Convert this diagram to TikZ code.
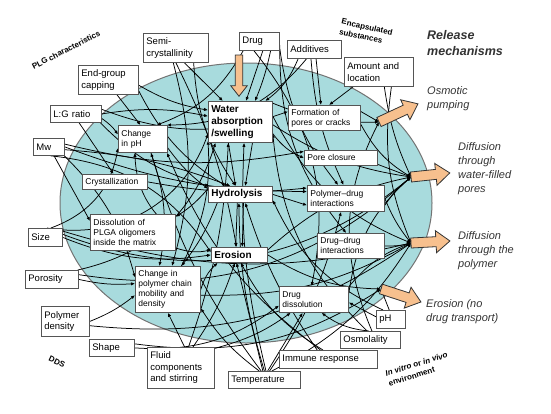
\documentclass[tikz,border=0pt]{standalone}
\usepackage{fontspec}
\setmainfont{Liberation Sans}
\usetikzlibrary{arrows.meta}
\pgfdeclarelayer{back}
\pgfdeclarelayer{links}
\pgfsetlayers{back,links,main}
\definecolor{lagoon}{RGB}{168,219,221}
\definecolor{peach}{RGB}{247,192,142}
\definecolor{boxline}{RGB}{85,85,85}
\tikzset{
  box/.style={draw=boxline,fill=white,line width=0.8pt,anchor=north west,align=left,inner xsep=3pt,inner ysep=1pt},
  fac/.style={box,font=\fontsize{9.5}{11.5}\selectfont},
  proc/.style={box,font=\fontsize{8.5}{10}\selectfont},
  keyproc/.style={box,font=\fontsize{10}{12}\selectfont\bfseries},
  link/.style={-{Latex[length=4pt,width=3.4pt]},line width=0.75pt},
  bigarr/.style={fill=peach,draw=black!80,line width=0.8pt},
  tag/.style={font=\fontsize{8}{10.5}\selectfont\bfseries,align=left,inner sep=0pt},
  mech/.style={font=\fontsize{11}{14}\selectfont\itshape,text=black!80,align=left,anchor=north west,inner sep=0pt}
}
\newcommand\relarrow[5][]{%
  \draw[bigarr,shift={(#2,#3)},rotate=#4,#1] (0,5) -- ({#5-14},5) -- ({#5-14},11) -- (#5,0)
    -- ({#5-14},-11) -- ({#5-14},-5) -- (0,-5) -- cycle;}

\begin{document}
\begin{tikzpicture}[x=1pt,y=-1pt]
\useasboundingbox (0,0) rectangle (551,413);
\begin{pgfonlayer}{back}
  \draw[fill=lagoon,draw=black!55,line width=1pt] (246,203) ellipse [x radius=186,y radius=140];
\end{pgfonlayer}

% factors outside the device
\node[fac,text width=59pt,minimum height=29pt] (semi) at (143,33) {Semi-\\crystallinity};
\node[fac,text width=34pt,minimum height=18pt] (drug) at (239,32) {Drug};
\node[fac,text width=48pt,minimum height=18pt] (addit) at (287,40) {Additives};
\node[fac,text width=63pt,minimum height=29pt] (amount) at (344,57) {Amount and\\location};
\node[fac,text width=54pt,minimum height=29pt] (endgrp) at (78,65) {End-group\\capping};
\node[fac,text width=45pt,minimum height=17pt] (lg) at (50,105) {L:G ratio};
\node[fac,text width=25pt,minimum height=17pt] (mw) at (33,138) {Mw};
\node[fac,text width=28pt,minimum height=18pt] (size) at (28,228) {Size};
\node[fac,text width=47pt,minimum height=18pt] (poros) at (25,270) {Porosity};
\node[fac,text width=42pt,minimum height=30pt] (pdens) at (41,306) {Polymer\\density};
\node[fac,text width=39pt,minimum height=17pt] (shape) at (89,339) {Shape};
\node[fac,text width=61pt,minimum height=41pt] (fluid) at (147,347) {Fluid\\components\\and stirring};
\node[fac,text width=66pt,minimum height=17pt] (temp) at (228,371) {Temperature};
\node[fac,text width=92pt,minimum height=18pt] (immune) at (279,350) {Immune response};
\node[fac,text width=54pt,minimum height=17pt] (osmo) at (340,331) {Osmolality};
\node[fac,text width=23pt,minimum height=18pt] (ph) at (376,310) {pH};

% processes inside the device
\node[proc,text width=43pt,minimum height=27pt] (chph) at (118,125) {Change\\in pH};
\node[proc,text width=59pt,minimum height=15pt] (cryst) at (82,174) {Crystallization};
\node[proc,text width=79pt,minimum height=36pt] (dissol) at (90,214) {Dissolution of\\PLGA oligomers\\inside the matrix};
\node[proc,text width=59pt,minimum height=46pt] (chain) at (135,266) {Change in\\polymer chain\\mobility and\\density};
\node[keyproc,text width=58pt,minimum height=41pt] (water) at (208,101) {Water\\absorption\\/swelling};
\node[keyproc,text width=58pt,minimum height=16pt] (hydro) at (208,186) {Hydrolysis};
\node[keyproc,text width=50pt,minimum height=15pt] (eros) at (211,247) {Erosion};
\node[proc,text width=66pt,minimum height=25pt] (form) at (288,105) {Formation of\\pores or cracks};
\node[proc,text width=67pt,minimum height=15pt] (pclose) at (304,150) {Pore closure};
\node[proc,text width=71pt,minimum height=26pt] (pdint) at (307,185) {Polymer--drug\\interactions};
\node[proc,text width=61pt,minimum height=25pt] (ddint) at (317,233) {Drug--drug\\interactions};
\node[proc,text width=63pt,minimum height=26pt] (ddiss) at (279,286) {Drug\\dissolution};

\coordinate (osmT) at (379,122);
\coordinate (poreT) at (411,177);
\coordinate (polyT) at (411,243);
\coordinate (eroT) at (381,289);

\begin{pgfonlayer}{links}
\foreach \s/\t/\b in {drug.-70/water.75/0,drug.-40/water.55/5,drug.-150/chph.45/20,drug.-20/pdint.120/-15,
  drug.-10/ddint.110/-20,drug.-120/ddiss.100/25,semi.-60/water.130/0,semi.-90/eros.110/8,semi.-100/chain.80/15,
  semi.-40/hydro.120/-15,addit.-80/form.105/0,addit.-150/water.40/15,addit.-130/chph.30/25,addit.-110/pdint.100/-10,
  amount.-150/form.70/0,amount.-70/poreT/-8,amount.-50/polyT/-15,endgrp.-60/chph.100/0,endgrp.-10/water.160/-10,
  endgrp.-20/hydro.150/-15,lg.-70/cryst.100/0,lg.0/water.170/10,lg.-10/chph.170/10,lg.-20/hydro.165/-15,
  lg.10/form.170/-20,mw.-60/dissol.165/0,mw.-10/hydro.140/8,mw.0/pdint.170/-10,mw.-30/chain.160/15,
  mw.10/pclose.170/-12,mw.-80/eros.175/25,size.60/chph.-160/-30,size.0/eros.180/-15,size.10/poreT/-30,
  size.20/polyT/-15,size.80/water.-160/-40,poros.0/chain.170/-8,poros.20/water.-140/-30,poros.10/poreT/-25,
  pdens.0/chain.-170/-8,pdens.-10/polyT/-20,shape.0/ddiss.-170/-20,shape.10/eroT/-20}
  \draw[link] (\s) to[bend left=\b] (\t);
\foreach \s/\t/\b in {fluid.80/chain.-90/0,fluid.60/eros.-120/-8,fluid.30/ddiss.-150/-10,fluid.70/water.-120/-8,
  temp.100/eros.-110/0,temp.90/hydro.-100/8,temp.120/chain.-30/10,temp.110/chph.-60/10,temp.70/ddiss.-130/0,
  temp.60/pdint.-110/-10,temp.80/water.-80/8,temp.50/polyT/-15,immune.120/eros.-80/15,immune.140/hydro.-60/8,
  immune.130/chph.-30/15,osmo.100/ddiss.-60/15,osmo.110/water.-20/20,osmo.80/osmT/25,ph.170/ddiss.-5/0,
  ph.130/hydro.-10/20,ph.100/eroT/0}
  \draw[link] (\s) to[bend left=\b] (\t);
\foreach \s/\t/\b in {water.-120/hydro.120/0,water.-60/hydro.60/0,water.-20/pclose.180/-15,water.-5/poreT/-12,
  water.10/polyT/-20,water.30/osmT/-12,chph.-20/hydro.170/-8,chph.-60/chain.110/15,dissol.0/chph.-120/25,
  dissol.-20/eros.170/-15,hydro.-110/eros.115/0,hydro.-70/eros.70/0,hydro.-160/chain.60/8,hydro.0/pdint.-170/0,
  hydro.170/dissol.20/8,eros.0/eroT/-15,eros.10/poreT/15,form.-10/poreT/-15,form.10/osmT/0,pclose.-10/poreT/0,
  pdint.0/polyT/-8,pdint.-10/poreT/8,ddint.0/polyT/-8,ddiss.20/polyT/15,ddiss.10/poreT/20,chain.0/eros.-160/15,
  chain.-10/polyT/-15,cryst.0/pdint.165/-8,chain.60/water.-150/-15}
  \draw[link] (\s) to[bend left=\b] (\t);
\end{pgfonlayer}

\relarrow[scale=0.75]{239}{55}{-90}{55}
\relarrow{379}{122}{25}{43}
\relarrow{411}{177}{6}{39}
\relarrow{411}{243}{3}{39}
\relarrow{381}{289}{-18}{42}

\node[tag,rotate=27] (plglbl) at (66,50) {PLG characteristics};
\node[tag,rotate=-13] (enclbl) at (366,32) {Encapsulated\\substances};
\node[tag,rotate=-25] (ddslbl) at (57,362) {DDS};
\node[tag,rotate=17] (envlbl) at (418,369) {\textit{In vitro} or \textit{in vivo}\\environment};

\node[mech,font=\fontsize{12.5}{16}\selectfont\bfseries\itshape] (relhead) at (427,30) {Release\\mechanisms};
\node[mech] (osmlbl) at (427,86) {Osmotic\\pumping};
\node[mech] (porelbl) at (458,142) {Diffusion\\through\\water-filled\\pores};
\node[mech] (polylbl) at (458,231) {Diffusion\\through the\\polymer};
\node[mech] (erolbl) at (426,299) {Erosion (no\\drug transport)};
\end{tikzpicture}
\end{document}
